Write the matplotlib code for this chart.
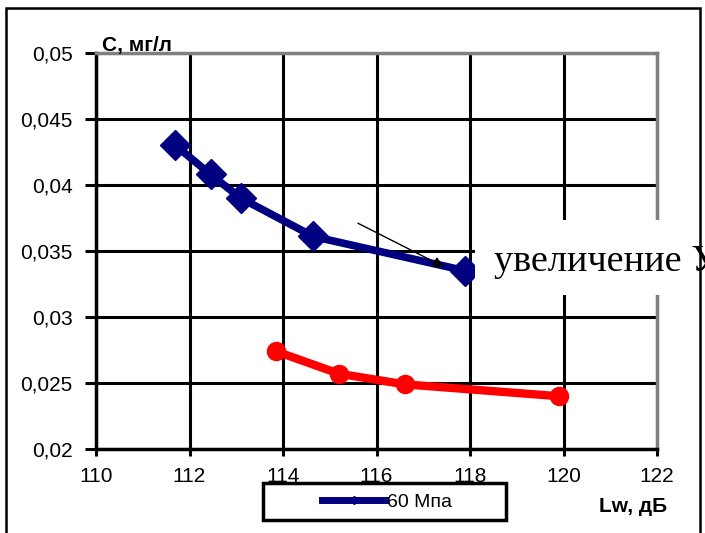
import matplotlib
matplotlib.use("Agg")
import matplotlib.pyplot as plt
from matplotlib.lines import Line2D
from matplotlib.patches import Rectangle
from matplotlib.ticker import FuncFormatter

# ---- data ----
blue_x = [111.7, 112.45, 113.1, 114.65, 117.9]
blue_y = [0.0430, 0.0408, 0.0390, 0.0361, 0.0335]
red_x = [113.85, 115.2, 116.6, 119.9]
red_y = [0.0274, 0.0257, 0.0249, 0.0240]
x_ticks = [110, 112, 114, 116, 118, 120, 122]
y_ticks = [0.02, 0.025, 0.03, 0.035, 0.04, 0.045, 0.05]
legend_label = "60 Мпа"
note_text = "увеличение У"

BLUE = "#000080"
RED = "#FF0000"

plt.rcParams['font.family'] = ['Liberation Sans', 'DejaVu Sans']

W, H = 705, 533
fig = plt.figure(figsize=(W / 100, H / 100), dpi=100)

# axes placed in pixel terms of the reference
L, R, T, B = 96, 657, 53, 449
ax = fig.add_axes([L / W, 1 - B / H, (R - L) / W, (B - T) / H])

ax.plot(blue_x, blue_y, color=BLUE, lw=5.5, marker='D', ms=15,
        solid_joinstyle='round', solid_capstyle='round', zorder=3)
ax.plot(red_x, red_y, color=RED, lw=6, marker='o', ms=13,
        solid_joinstyle='round', solid_capstyle='round', zorder=3)

ax.set_xlim(110, 122)
ax.set_ylim(0.02, 0.05)
ax.set_xticks(x_ticks)
ax.set_yticks(y_ticks)
ax.yaxis.set_major_formatter(FuncFormatter(lambda v, p: f"{v:g}".replace('.', ',')))
ax.tick_params(axis='both', labelsize=15, width=2.2, direction='out', color='black')
ax.tick_params(axis='y', length=8, pad=9)
ax.tick_params(axis='x', length=5, pad=8)

ax.set_axisbelow(True)
ax.grid(True, color='black', lw=2.2)
for s in ['left', 'bottom']:
    ax.spines[s].set_color('black')
    ax.spines[s].set_linewidth(2.5)
for s in ['top', 'right']:
    ax.spines[s].set_color('#808080')
    ax.spines[s].set_linewidth(2.5)

# arrow
ax.annotate('', xy=(117.5, 0.0337), xytext=(115.55, 0.0372),
            arrowprops=dict(arrowstyle='-|>', color='black', lw=1.0, mutation_scale=16))

# axis names
ax.text(0.011, 1.004, "С, мг/л", transform=ax.transAxes, fontsize=15,
        fontweight='bold', va='baseline', ha='left')
fig.text(633 / W, 1 - 507 / H, "Lw, дБ", fontsize=15, fontweight='bold',
         ha='center', va='center')

# white box with note text (covers grid)
fig.patches.append(Rectangle((475 / W, 1 - 295 / H), 300 / W, 75 / H,
                             transform=fig.transFigure, facecolor='white',
                             edgecolor='none', zorder=5))
fig.text(494 / W, 1 - 271 / H, note_text, fontsize=27.5, family='Liberation Serif',
         ha='left', va='baseline', zorder=6)

# legend box
fig.patches.append(Rectangle((263 / W, 1 - 520 / H), 243 / W, 37 / H,
                             transform=fig.transFigure, facecolor='white',
                             edgecolor='black', lw=2.5, zorder=5))
handle = Line2D([], [], color=BLUE, lw=5, marker='D', ms=4)
leg = fig.legend([handle], [legend_label], loc='center', frameon=False,
                 bbox_to_anchor=(387 / W, 1 - 502 / H), fontsize=14,
                 handlelength=3.2, handletextpad=0.1)
leg.set_zorder(6)

# outer frame of the picture
fig.patches.append(Rectangle((6 / W, -0.05), 694 / W, 1.05 - 8 / H,
                             transform=fig.transFigure, facecolor='none',
                             edgecolor='black', lw=1.8, zorder=7))

fig.savefig("out.png", dpi=100)
